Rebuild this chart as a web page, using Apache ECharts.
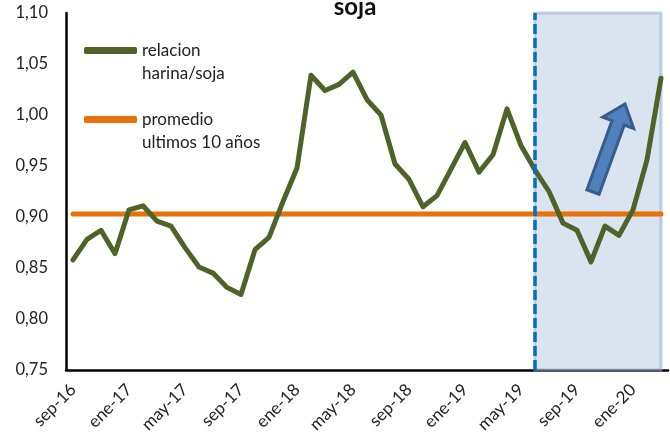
<!DOCTYPE html>
<html>
<head>
<meta charset="utf-8">
<script src="https://cdn.jsdelivr.net/npm/echarts@6/dist/echarts.min.js"></script>
<style>html,body{margin:0;padding:0;background:#fff}#c{width:670px;height:442px}</style>
</head>
<body>
<div id="c"></div>
<script>
const categories = ['sep-16','oct-16','nov-16','dic-16','ene-17','feb-17','mar-17','abr-17','may-17','jun-17','jul-17','ago-17','sep-17','oct-17','nov-17','dic-17','ene-18','feb-18','mar-18','abr-18','may-18','jun-18','jul-18','ago-18','sep-18','oct-18','nov-18','dic-18','ene-19','feb-19','mar-19','abr-19','may-19','jun-19','jul-19','ago-19','sep-19','oct-19','nov-19','dic-19','ene-20','feb-20','mar-20'];
const relacion = [0.858,0.878,0.887,0.864,0.907,0.911,0.896,0.891,0.870,0.851,0.845,0.831,0.824,0.868,0.880,0.915,0.948,1.039,1.024,1.030,1.042,1.015,1.000,0.952,0.937,0.910,0.921,0.947,0.973,0.944,0.961,1.006,0.970,0.946,0.925,0.894,0.887,0.856,0.891,0.882,0.907,0.956,1.036];
const promedioValue = 0.903;
const promedio = categories.map(() => promedioValue);
const yTicks = [0.75, 1.10, 0.05];
const highlightStart = 'jun-19';
const highlightEnd = 'mar-20';
const seriesNames = ['relacion\nharina/soja', 'promedio\nultimos 10 años'];

const FONT = 'Lato, "Liberation Sans", sans-serif';
const chart = echarts.init(document.getElementById('c'));

// arrow decoration
function arrowPoints(tail, tip, shaftW, headW, headL) {
  const dx = tip[0]-tail[0], dy = tip[1]-tail[1];
  const L = Math.hypot(dx, dy);
  const ux = dx/L, uy = dy/L, nx = -uy, ny = ux;
  const bx = tip[0]-ux*headL, by = tip[1]-uy*headL;
  return [
    [tail[0]+nx*shaftW/2, tail[1]+ny*shaftW/2],
    [bx+nx*shaftW/2, by+ny*shaftW/2],
    [bx+nx*headW/2, by+ny*headW/2],
    tip,
    [bx-nx*headW/2, by-ny*headW/2],
    [bx-nx*shaftW/2, by-ny*shaftW/2],
    [tail[0]-nx*shaftW/2, tail[1]-ny*shaftW/2]
  ];
}

chart.setOption({
  animation: false,
  title: {
    text: 'soja', left: 350, top: -10, textAlign: 'center',
    textStyle: {fontFamily: FONT, fontSize: 24, fontWeight: 'bold', color: '#111'}
  },
  grid: {left: 66, right: 2, top: 13, bottom: 72, containLabel: false},
  legend: {
    orient: 'vertical', left: 84, top: 16, itemGap: 0, padding: 0,
    itemWidth: 53, itemHeight: 7, icon: 'roundRect',
    data: seriesNames,
    formatter: name => ' \n' + name,
    textStyle: {fontFamily: FONT, fontSize: 17, color: '#222', lineHeight: 23}
  },
  xAxis: {
    type: 'category', data: categories, boundaryGap: true,
    axisLine: {lineStyle: {color: '#000', width: 2.5}},
    axisTick: {show: false},
    axisLabel: {interval: 3, rotate: 45, fontFamily: FONT, fontSize: 17, color: '#222', margin: 17}
  },
  yAxis: {
    type: 'value', min: yTicks[0], max: yTicks[1], interval: yTicks[2],
    axisLine: {show: true, lineStyle: {color: '#000', width: 2.5}},
    axisTick: {show: false},
    splitLine: {show: false},
    axisLabel: {fontFamily: FONT, fontSize: 16.5, color: '#222', margin: 18,
      formatter: v => v.toFixed(2).replace('.', ',')}
  },
  series: [
    {
      name: seriesNames[0], type: 'line', data: relacion, symbol: 'none',
      lineStyle: {color: '#4f6228', width: 5, cap: 'round', join: 'round'},
      itemStyle: {color: '#4f6228'}, z: 3
    },
    {
      name: seriesNames[1], type: 'line', data: promedio, symbol: 'none',
      lineStyle: {color: '#e8710a', width: 5, cap: 'round'},
      itemStyle: {color: '#e8710a'}, z: 2
    },
    {
      type: 'line', data: [], z: 10, silent: true,
      markArea: {
        silent: true,
        itemStyle: {color: 'rgba(107,143,195,0.25)', borderColor: 'rgba(150,172,208,0.55)', borderWidth: 3},
        data: [[{xAxis: highlightStart}, {xAxis: highlightEnd}]]
      }
    },
    {
      type: 'line', data: [], z: 11, silent: true,
      markLine: {
        silent: true, symbol: 'none', label: {show: false},
        lineStyle: {color: '#0070c0', width: 3.5, type: [10, 4]},
        data: [{xAxis: highlightStart}]
      }
    }
  ],
  graphic: [{
    type: 'polygon', z: 100,
    shape: {points: arrowPoints([593, 192], [625, 104], 13, 33, 20)},
    style: {fill: '#4f81bd', stroke: '#385d8a', lineWidth: 3}
  }]
});
</script>
</body>
</html>
